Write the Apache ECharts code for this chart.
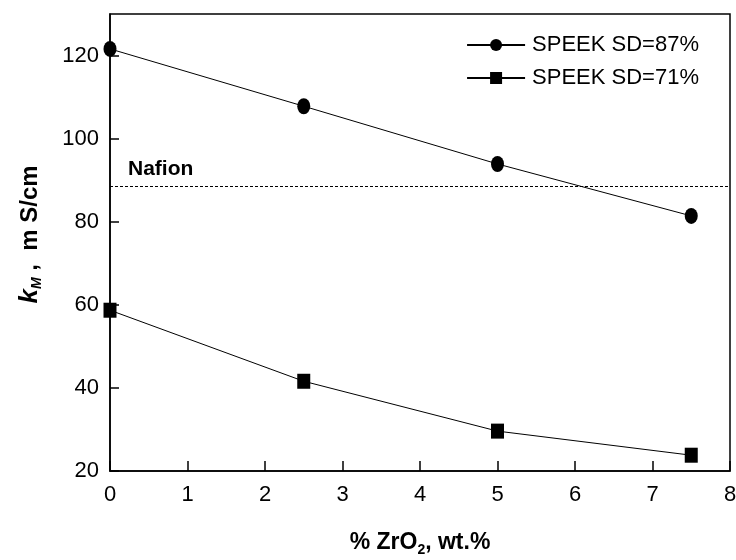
<!DOCTYPE html>
<html>
<head>
<meta charset="utf-8">
<script src="https://cdn.jsdelivr.net/npm/echarts@6/dist/echarts.min.js"></script>
<style>
  html, body { margin: 0; padding: 0; background: #fff; }
  #chart { width: 736px; height: 560px; }
</style>
</head>
<body>
<div id="chart"></div>
<script>
// ZrO2 loading (wt.%) and proton conductivity k_M (mS/cm)
const zrO2 = [0, 2.5, 5, 7.5];
const sd87 = [121.6, 107.8, 93.9, 81.4];
const sd71 = [58.7, 41.6, 29.6, 23.8];
const nafion = 88.6;
const seriesNames = ['SPEEK SD=87%', 'SPEEK SD=71%'];

const FONT = '"Liberation Sans", Arial, sans-serif';

const chart = echarts.init(document.getElementById('chart'));
chart.setOption({
  backgroundColor: '#fff',
  animation: false,
  textStyle: { fontFamily: FONT, color: '#000' },
  grid: {
    left: 110, top: 14, right: 6, bottom: 89,
    outerBoundsMode: 'none',
    containLabel: false,
    show: true, borderColor: '#000', borderWidth: 1.5
  },
  legend: {
    top: 29, right: 32,
    orient: 'vertical',
    itemWidth: 58, itemHeight: 15, itemGap: 11,
    textStyle: { fontSize: 22, fontFamily: FONT, color: '#000', padding: [0, 0, 0, 2] },
    data: seriesNames
  },
  xAxis: {
    type: 'value', min: 0, max: 8, interval: 1,
    axisLine: { show: true, lineStyle: { color: '#000', width: 1.5 } },
    axisTick: { show: true, inside: true, length: 10, lineStyle: { color: '#000', width: 1.5 } },
    axisLabel: { fontSize: 22, color: '#000', margin: 13, fontFamily: FONT },
    splitLine: { show: false },
    name: '{b|% ZrO}{s|2}{b|, wt.%}',
    nameLocation: 'middle', nameGap: 58,
    nameTextStyle: {
      rich: {
        b: { fontSize: 23, fontWeight: 'bold', color: '#000', fontFamily: FONT },
        s: { fontSize: 14, fontWeight: 'bold', color: '#000', fontFamily: FONT, verticalAlign: 'bottom', padding: [14, 0, 0, 0] }
      }
    }
  },
  yAxis: {
    type: 'value', min: 20, max: 130, interval: 20,
    axisLine: { show: true, lineStyle: { color: '#000', width: 1.5 } },
    axisTick: { show: true, inside: true, length: 9, lineStyle: { color: '#000', width: 1.5 } },
    axisLabel: { fontSize: 22, color: '#000', margin: 11, showMaxLabel: false, fontFamily: FONT },
    splitLine: { show: false },
    name: '{k|k}{m|M}{b| ,  m S/cm}',
    nameLocation: 'middle', nameGap: 66, nameRotate: 90,
    nameTextStyle: {
      padding: [0, 0, 0, 16],
      rich: {
        k: { fontSize: 26, fontWeight: 'bold', fontStyle: 'italic', color: '#000', fontFamily: FONT },
        m: { fontSize: 14, fontWeight: 'bold', fontStyle: 'italic', color: '#000', fontFamily: FONT, verticalAlign: 'bottom', padding: [14, 0, 0, 0] },
        b: { fontSize: 24, fontWeight: 'bold', color: '#000', fontFamily: FONT }
      }
    }
  },
  series: [
    {
      name: seriesNames[0], type: 'line',
      data: zrO2.map((x, i) => [x, sd87[i]]),
      symbol: 'circle', symbolSize: [13, 16],
      itemStyle: { color: '#000' },
      lineStyle: { color: '#000', width: 1 },
      markLine: {
        silent: true, symbol: 'none',
        lineStyle: { type: [3, 2], color: '#000', width: 1 },
        label: {
          show: true, position: 'insideStartTop', formatter: 'Nafion',
          fontSize: 21, fontWeight: 'bold', color: '#000', fontFamily: FONT,
          distance: [18, 6]
        },
        data: [{ yAxis: nafion }]
      },
      z: 3
    },
    {
      name: seriesNames[1], type: 'line',
      data: zrO2.map((x, i) => [x, sd71[i]]),
      symbol: 'rect', symbolSize: [13, 15],
      itemStyle: { color: '#000' },
      lineStyle: { color: '#000', width: 1 },
      z: 3
    }
  ]
});
</script>
</body>
</html>
